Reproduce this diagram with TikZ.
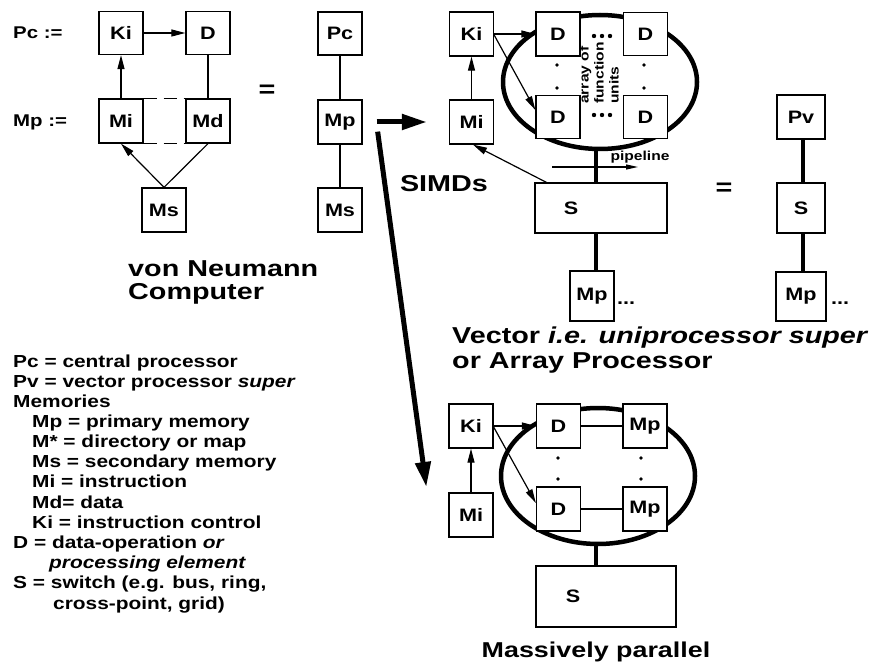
\documentclass[tikz,border=0pt]{standalone}
\usepackage{fontspec}
\setmainfont{Liberation Sans}[FakeStretch=1.2]
\newfontfamily\ttlfam{Liberation Sans}[FakeStretch=1.25]
\usetikzlibrary{arrows.meta}
\tikzset{
  bx/.style={draw, line width=1.3pt, fill=white, minimum width=44pt, minimum height=43pt, inner sep=0pt, font=\bfseries\fontsize{18}{18}\selectfont},
  ln/.style={line width=1.2pt},
  arr/.style={line width=1.2pt, -{Triangle[length=14pt,width=7pt]}},
  parr/.style={line width=1.1pt, -{Triangle[length=12pt,width=5pt]}},
  thk/.style={line width=4.5pt},
  ring/.style={line width=4.5pt},
  bigarr/.style={line width=5pt, -{Triangle[length=25pt,width=15pt]}},
  lbl/.style={font=\bfseries\fontsize{17}{17}\selectfont, anchor=base west, inner sep=0pt},
  ttl/.style={font=\ttlfam\bfseries\fontsize{23}{23}\selectfont, anchor=base west, inner sep=0pt},
  leg/.style={font=\bfseries\fontsize{17.4}{20}\selectfont, anchor=base west, inner sep=0pt},
  slbl/.style={font=\bfseries\fontsize{18}{18}\selectfont},
  dashl/.style={line width=1.2pt, dash pattern=on 13pt off 7pt},
}
\begin{document}
\begin{tikzpicture}[x=1pt,y=-1pt]
\fill[white] (0,0) rectangle (873,668);
\useasboundingbox (0,0) rectangle (873,668);

% rings
\draw[ring] (600,82) ellipse [x radius=97, y radius=67];
\draw[ring] (598,476) ellipse [x radius=97, y radius=68];

% ---------- von Neumann ----------
\node[lbl] (pcl) at (13,39) {Pc :=};
\node[lbl] (mpl) at (13,127) {Mp :=};
\node[bx] (Ki1) at (121,33) {Ki};
\node[bx] (D1) at (208,33) {D};
\node[bx, minimum height=44pt] (Mi1) at (121,121) {Mi};
\node[bx, minimum height=44pt] (Md1) at (208,121) {Md};
\node[bx, minimum height=44pt] (Ms1) at (164,210) {Ms};
\draw[arr] (Ki1) -- (D1);
\draw[arr] (Mi1) -- (Ki1);
\draw[ln] (D1) -- (Md1);
\draw[dashl] (Mi1.north east) -- (Md1.north west);
\draw[dashl] (Mi1.south east) -- (Md1.south west);
\draw[arr] (Ms1.north) -- (Mi1.south);
\draw[ln] (Ms1.north) -- (Md1.south);
\node[font=\bfseries\fontsize{24}{24}\selectfont] (eq1) at (267,91) {=};
\node[ttl] (vn1) at (128,277) {von Neumann};
\node[ttl] (vn2) at (128,300) {Computer};

% ---------- middle ----------
\node[bx, minimum height=43pt] (Pc2) at (340,33.5) {Pc};
\node[bx, minimum height=44pt] (Mp2) at (340,122) {Mp};
\node[bx, minimum height=44pt] (Ms2) at (340,210) {Ms};
\draw[ln] (Pc2) -- (Mp2);
\draw[ln] (Mp2) -- (Ms2);

% ---------- SIMD ----------
\node[bx, minimum height=44pt] (Ki3) at (471.5,34) {Ki};
\node[bx, minimum height=44pt] (Mi3) at (471.5,122) {Mi};
\node[bx, minimum height=44pt] (Da) at (558,34) {D};
\node[bx] (Db) at (558,117) {D};
\node[bx] (Dc) at (645.5,34) {D};
\node[bx] (Dd) at (645.5,117) {D};
\draw[arr] (Mi3) -- (Ki3);
\draw[arr] (Ki3.east) -- (Da.west);
\draw[arr] ([yshift=-1pt]Ki3.east) -- ([yshift=7pt]Db.west);
\foreach \x in {594,602,610} {\fill (\x,36) circle (2.2); \fill (\x,115) circle (2.2);}
\foreach \y in {65,88} {\fill (557,\y) circle (1.8); \fill (644,\y) circle (1.8);}
\node[rotate=90, anchor=west, align=left, inner sep=0pt, font=\bfseries\fontsize{13}{15}\selectfont] (afu) at (599,104) {array of\\function\\units};

\node[ttl, anchor=center] (simd) at (444,184) {SIMDs};

\node[bx, minimum width=132pt, minimum height=50pt, label={[slbl, xshift=-30pt]center:S}] (S3) at (601,208) {};
\coordinate (e3) at (596,149);
\draw[thk] (e3) -- (e3 |- S3.north);
\coordinate (p1) at (552,167);
\coordinate (p2) at (638,167);
\draw[parr] (p1) -- (p2);
\node[font=\bfseries\fontsize{13}{13}\selectfont, inner sep=0pt] (pipe) at (640,157) {pipeline};
\draw[arr] ([xshift=12pt]S3.north west) -- ([xshift=1.5pt]Mi3.south);
\node[bx, minimum height=50pt] (Mp3) at (592,296) {Mp};
\draw[thk] (e3 |- S3.south) -- (e3 |- Mp3.north);
\node[slbl, anchor=base west, inner sep=0pt] (dots3) at (617,305) {...};

\node[font=\bfseries\fontsize{24}{24}\selectfont] (eq2) at (724,189) {=};
\node[bx, minimum width=48pt, minimum height=44pt] (Pv) at (801,117) {Pv};
\node[bx, minimum width=48pt, minimum height=50pt] (S4) at (801,208) {S};
\node[bx, minimum width=50pt, minimum height=49pt] (Mp4) at (801,296.5) {\raisebox{-5pt}{Mp}};
\draw[thk] ([xshift=2pt]Pv.south) -- ([xshift=2pt]S4.north);
\draw[thk] ([xshift=2pt]S4.south) -- ([xshift=2pt]Mp4.north);
\node[slbl, anchor=base west, inner sep=0pt] (dots4) at (831,305) {...};

\node[ttl] (vt1) at (452,344) {Vector \textit{i.e. uniprocessor super}};
\node[ttl] (vt2) at (452,369) {or Array Processor};

% ---------- Massively parallel ----------
\node[bx, minimum height=44pt] (Ki5) at (471,426) {Ki};
\node[bx, minimum height=44pt] (Mi5) at (471,515) {Mi};
\node[bx, minimum height=44pt] (D5a) at (558.5,426) {D};
\node[bx, minimum height=44pt] (D5b) at (558.5,509) {D};
\node[bx, minimum height=44pt] (M5a) at (645,426) {Mp};
\node[bx, minimum height=44pt] (M5b) at (645,509) {Mp};
\draw[ln] (D5a) -- (M5a);
\draw[ln] (D5b) -- (M5b);
\draw[arr] (Mi5) -- (Ki5);
\draw[arr] (Ki5) -- (D5a);
\draw[arr] ([yshift=-1pt]Ki5.east) -- ([yshift=6pt]D5b.west);
\foreach \y in {458,479} {\fill (558,\y) circle (1.8); \fill (641,\y) circle (1.8);}
\node[bx, minimum width=140pt, minimum height=61pt, label={[slbl, xshift=-33pt]center:S}] (S5) at (606,596.5) {};
\coordinate (e5) at (596,544);
\draw[thk] (e5) -- (e5 |- S5.north);
\node[ttl, anchor=center, font=\ttlfam\bfseries\fontsize{21.5}{21.5}\selectfont] (mpt) at (596,652) {Massively parallel};

% big arrows
\draw[bigarr] ([xshift=14pt]Mp2.east) -- ([xshift=-22pt]Mi3.west);
\draw[bigarr] ([shift={(15,-13)}]Mp2.south east) -- ([shift={(-22,-28)}]Mi5.west);

% ---------- legend ----------
\node[leg] (l1) at (13,367) {Pc = central processor};
\node[leg] (l2) at (13,387) {Pv = vector processor \textit{super}};
\node[leg] (l3) at (13,407) {Memories};
\node[leg] (l4) at (32,427) {Mp = primary memory};
\node[leg] (l5) at (32,447) {M* = directory or map};
\node[leg] (l6) at (32,467) {Ms = secondary memory};
\node[leg] (l7) at (32,487) {Mi = instruction};
\node[leg] (l8) at (32,508) {Md= data};
\node[leg] (l9) at (32,528) {Ki = instruction control};
\node[leg] (l10) at (13,548) {D = data-operation \textit{or}};
\node[leg] (l11) at (49,568) {\textit{processing element}};
\node[leg] (l12) at (13,588) {S = switch (e.g. bus, ring,};
\node[leg] (l13) at (53,609) {cross-point, grid)};
\end{tikzpicture}
\end{document}
